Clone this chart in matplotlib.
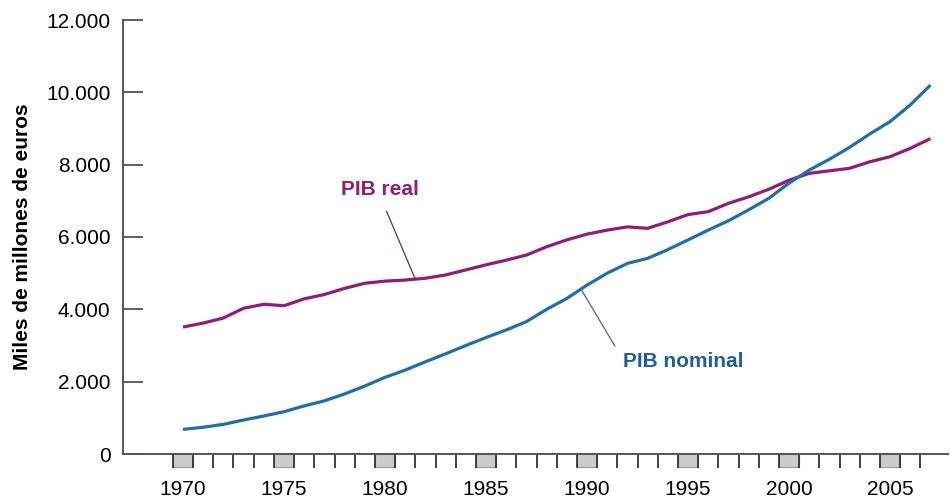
import matplotlib

matplotlib.use("Agg")

import matplotlib.pyplot as plt
import matplotlib.transforms as mtransforms
import numpy as np
from matplotlib.patches import Rectangle
from matplotlib.ticker import FuncFormatter

years = list(range(1970, 2008))
pib_real = [
    3510, 3620, 3760, 4030, 4140, 4100, 4290, 4410, 4580, 4720,
    4780, 4810, 4860, 4950, 5090, 5230, 5360, 5500, 5730, 5920,
    6080, 6190, 6280, 6240, 6420, 6620, 6700, 6930, 7110, 7320,
    7570, 7760, 7830, 7900, 8080, 8220, 8450, 8720,
]
pib_nominal = [
    680, 740, 820, 940, 1050, 1170, 1330, 1470, 1660, 1880,
    2120, 2320, 2550, 2770, 3000, 3220, 3430, 3660, 4000, 4300,
    4670, 5000, 5270, 5410, 5650, 5920, 6190, 6450, 6750, 7070,
    7490, 7850, 8150, 8480, 8850, 9190, 9650, 10200,
]
label_years = [1970, 1975, 1980, 1985, 1990, 1995, 2000, 2005]
y_ticks = [0, 2000, 4000, 6000, 8000, 10000, 12000]

REAL_COLOR = "#921c77"
NOMINAL_COLOR = "#1f6db2"
AXIS_COLOR = "#555555"


def miles(v, _pos):
    return f"{int(v):,}".replace(",", ".")


def main() -> None:
    plt.rcParams["font.family"] = ["Liberation Sans", "DejaVu Sans"]
    fig = plt.figure(figsize=(9.5, 5.03), dpi=100)
    ax = fig.add_axes([123 / 950, 49 / 503, 825 / 950, 434 / 503])

    ax.plot(years, pib_real, color=REAL_COLOR, lw=2.3, solid_capstyle="butt")
    ax.plot(years, pib_nominal, color=NOMINAL_COLOR, lw=2.3, solid_capstyle="butt")

    ax.set_xlim(1967.03, 2007.87)
    ax.set_ylim(0, 12000)

    for side in ("top", "right"):
        ax.spines[side].set_visible(False)
    for side in ("left", "bottom"):
        ax.spines[side].set_color(AXIS_COLOR)
        ax.spines[side].set_linewidth(1.4)

    # y axis: inward ticks, dotted thousands
    ax.set_yticks(y_ticks)
    ax.yaxis.set_major_formatter(FuncFormatter(miles))
    ax.tick_params(axis="y", direction="in", length=14.4, width=1.3, color=AXIS_COLOR,
                   labelsize=15, pad=9)
    ax.set_ylabel("Miles de millones de euros", fontsize=15, fontweight="bold", labelpad=10)

    # x axis: ticks on year boundaries, labels on year centres
    ax.set_xticks([y - 0.5 for y in years])
    ax.set_xticklabels([])
    ax.tick_params(axis="x", which="major", direction="out", length=10, width=1.3, color="#333333")
    ax.set_xticks(label_years, minor=True)
    ax.set_xticklabels([str(y) for y in label_years], minor=True)
    ax.tick_params(axis="x", which="minor", length=0, labelsize=15, pad=19)

    trans = mtransforms.blended_transform_factory(ax.transData, ax.transAxes)
    for y in label_years:
        ax.add_patch(Rectangle((y - 0.5, -0.031), 1.0, 0.031, transform=trans, clip_on=False,
                               facecolor="#cccccc", edgecolor="#999999", lw=0.8, zorder=0))

    ax.annotate("PIB real", xy=(1981.5, np.interp(1981.5, years, pib_real)),
                xytext=(1979.75, 7300), ha="center", va="center",
                fontsize=15, fontweight="bold", color=REAL_COLOR,
                arrowprops=dict(arrowstyle="-", color="#6b2a5c", lw=0.9,
                                relpos=(0.52, 0.0), shrinkA=7, shrinkB=0))
    ax.annotate("PIB nominal", xy=(1989.7, np.interp(1989.7, years, pib_nominal)),
                xytext=(1994.75, 2570), ha="center", va="center",
                fontsize=15, fontweight="bold", color="#1b5fa5",
                arrowprops=dict(arrowstyle="-", color="#4a6a85", lw=0.9,
                                relpos=(0.0, 0.6), shrinkA=7, shrinkB=0))

    fig.savefig("out.png", dpi=100)
    plt.close(fig)


if __name__ == "__main__":
    main()
